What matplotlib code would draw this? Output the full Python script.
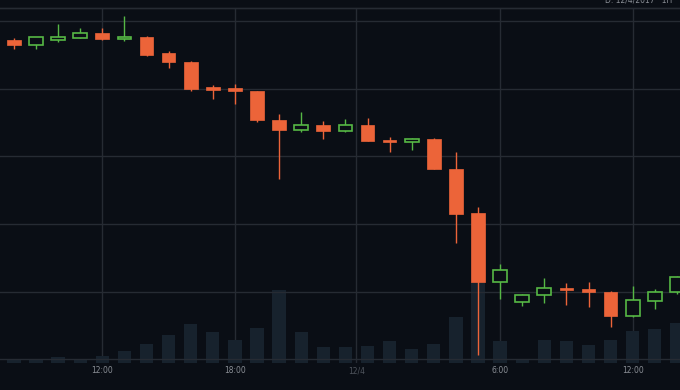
import numpy as np
import matplotlib
matplotlib.use("Agg")
import matplotlib.pyplot as plt

# hourly candles
opens  = [11472, 11465, 11472, 11475, 11482, 11473, 11477, 11452, 11440, 11402,
          11401, 11396, 11354, 11339, 11346, 11338, 11346, 11324, 11321, 11326,
          11282, 11216, 11115, 11085, 11095, 11105, 11104, 11100, 11064, 11087, 11100]
highs  = [11475, 11477, 11496, 11489, 11490, 11508, 11478, 11456, 11441, 11405,
          11407, 11397, 11363, 11365, 11352, 11355, 11356, 11329, 11327, 11327,
          11306, 11225, 11141, 11097, 11121, 11113, 11114, 11101, 11109, 11104, 11124]
lows   = [11459, 11459, 11469, 11475, 11472, 11471, 11448, 11430, 11396, 11385,
          11377, 11351, 11266, 11336, 11325, 11336, 11322, 11306, 11310, 11281,
          11172, 11006, 11089, 11079, 11084, 11081, 11077, 11048, 11063, 11074, 11096]
closes = [11465, 11476, 11476, 11482, 11473, 11477, 11450, 11440, 11400, 11398,
          11397, 11354, 11339, 11346, 11338, 11346, 11323, 11321, 11326, 11282,
          11215, 11115, 11132, 11095, 11105, 11102, 11099, 11064, 11088, 11100, 11122]
volumes = [60, 74, 120, 74, 134, 246, 386, 566, 780, 614, 454, 700, 1460, 614, 326,
           326, 346, 440, 280, 380, 926, 1626, 434, 74, 466, 434, 360, 454, 646, 686, 794]

tick_pos = [4, 10, 15.5, 22, 28]
tick_labels = ["12:00", "18:00", "12/4", "6:00", "12:00"]
price_grid = [11000, 11100, 11200, 11300, 11400, 11500]

bg = "#0a0e15"
up = "#56b845"
down = "#ec6439"
grid = "#262b33"
vol_c = "#17222d"

fig = plt.figure(figsize=(6.8, 3.9), dpi=100, facecolor=bg)
ax_v = fig.add_axes([0, 1 - 363 / 390, 1, 355 / 390])
ax_v.set_facecolor(bg)
ax_p = ax_v.twinx()

x = np.arange(len(opens))
w = 0.62

# volume underneath
ax_v.bar(x, volumes, width=0.6, color=vol_c, zorder=2)
ax_v.set_ylim(0, 7100)
ax_v.set_xlim(-0.63, 30.14)
ax_v.set_xticks(tick_pos)
ax_v.set_xticklabels(tick_labels, fontsize=5.5)
ax_v.tick_params(axis="x", length=0, pad=2.5, colors="#8a8f96")
ax_v.get_xticklabels()[2].set_color("#4f545c")
ax_v.set_yticks([])
for t in tick_pos:
    ax_v.axvline(t, color=grid, lw=1, zorder=0)

# candles
for i in x:
    o, h, l, c = opens[i], highs[i], lows[i], closes[i]
    col = up if c >= o else down
    ax_p.vlines(i, l, h, color=col, lw=1, zorder=3)
    lo, hi = min(o, c), max(o, c)
    if c >= o:
        ax_p.bar(i, max(hi - lo, 1), bottom=lo, width=w, facecolor=bg,
                 edgecolor=col, linewidth=1.2, zorder=4)
    else:
        ax_p.bar(i, max(hi - lo, 1.5), bottom=lo, width=w, facecolor=col,
                 edgecolor=col, linewidth=0.5, zorder=4)

for g in price_grid:
    ax_p.axhline(g, color=grid, lw=1, zorder=1)
ax_p.set_ylim(10994.8, 11519.2)
ax_p.set_xlim(-0.63, 30.14)
ax_p.set_yticks([])

for a in (ax_v, ax_p):
    for s in ("left", "right", "bottom"):
        a.spines[s].set_visible(False)
    a.spines["top"].set_color(grid)
    a.spines["top"].set_linewidth(1)

fig.text(0.995, 1.0, "D: 12/4/2017 \u00b7 1H \u00b7", ha="right", va="center",
         fontsize=5.5, color="#8a8f96")

fig.savefig("out.png", dpi=100, facecolor=bg)
